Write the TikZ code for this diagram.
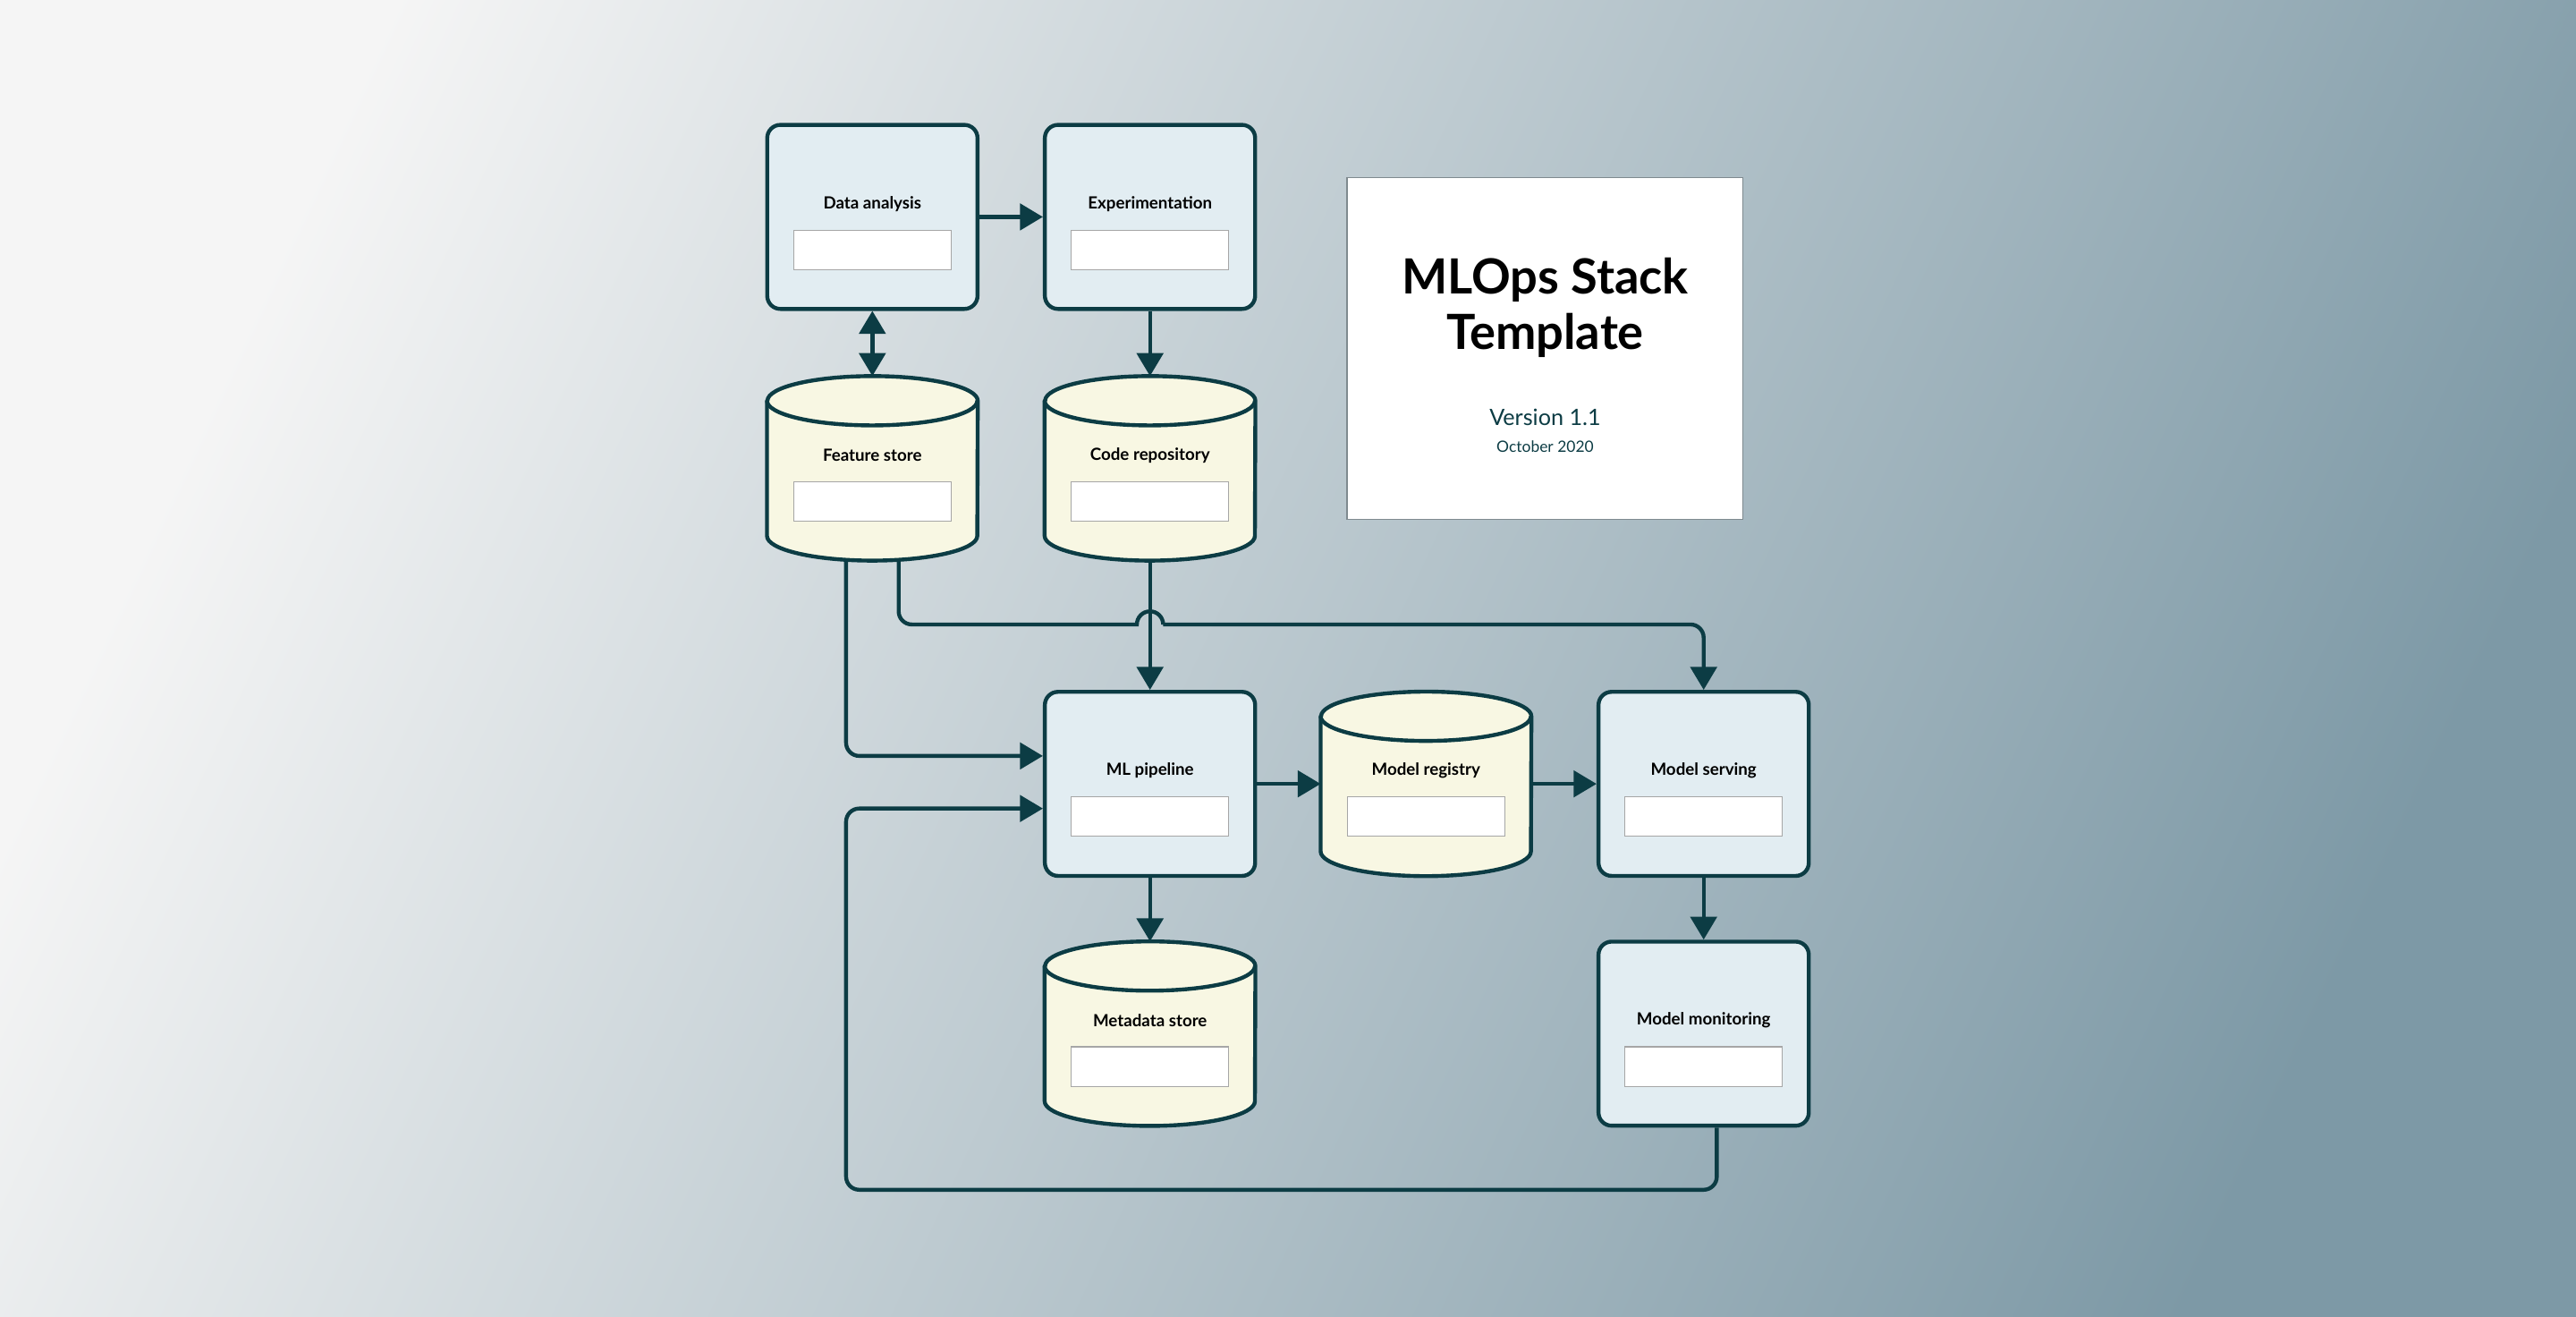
\documentclass[tikz,border=0pt]{standalone}
\usepackage{fontspec}
\setmainfont{Lato}
\usetikzlibrary{arrows.meta, positioning}
\definecolor{inkcolor}{RGB}{12,60,68}
\definecolor{boxcolor}{RGB}{226,237,242}
\definecolor{dbcolor}{RGB}{248,247,227}
\definecolor{bgleft}{RGB}{245,245,245}
\definecolor{bgright}{RGB}{125,153,166}

\begin{document}
\begin{tikzpicture}[
            x=0.5mm, y=-0.5mm,
            box/.style={rectangle, rounded corners=4mm, draw=inkcolor, line width=3.4pt, fill=boxcolor, minimum width=64mm, minimum height=56mm},
            db/.style={rectangle, minimum width=64mm, minimum height=56mm},
            dbshape/.style={draw=inkcolor, line width=3.4pt, fill=dbcolor, line join=round},
            label/.style={font=\bfseries\fontsize{14.5}{16}\selectfont, text=black},
            field/.style={rectangle, draw=gray!70, line width=0.8pt, fill=white, minimum width=48mm, minimum height=12mm},
            arrow/.style={-{Triangle[length=7mm, width=8mm]}, draw=inkcolor, line width=3.4pt, rounded corners=4mm}
        ]
            \shade[shading=axis, left color=bgleft, right color=bgright, shading angle=65] (0,0) rectangle (1568,801);
            \path[use as bounding box] (0,0) rectangle (1568,801);

            % stack components
            \node[box] (analysis) at (531,132) {};
            \node[box] (experiment) at (700,132) {};
            \node[db] (features) at (531,285) {};
            \node[db] (coderepo) at (700,285) {};
            \node[box] (pipeline) at (700,477) {};
            \node[db] (registry) at (868,477) {};
            \node[box] (serving) at (1037,477) {};
            \node[db] (metadata) at (700,629) {};
            \node[box] (monitoring) at (1037,629) {};

            % cylinders for the stores
            \foreach \n in {features, coderepo, registry, metadata}{
                \path[dbshape] ([yshift=-7.5mm]\n.north west) -- ([yshift=7.5mm]\n.south west)
                    arc[start angle=180, end angle=360, x radius=32mm, y radius=7.5mm]
                    -- ([yshift=-7.5mm]\n.north east)
                    arc[start angle=0, end angle=180, x radius=32mm, y radius=7.5mm] -- cycle;
                \draw[dbshape, fill=none] ([yshift=-7.5mm]\n.north west)
                    arc[start angle=180, end angle=360, x radius=32mm, y radius=7.5mm];
            }

            \foreach \n/\t in {analysis/Data analysis, experiment/Experimentation, features/Feature store, coderepo/Code repository, pipeline/ML pipeline, registry/Model registry, serving/Model serving, metadata/Metadata store, monitoring/Model monitoring}{
                \node[label] at ([yshift=4mm]\n.center) {\t};
                \node[field] at ([yshift=-10mm]\n.center) {};
            }

            % title card
            \node[rectangle, draw=gray!60!bgright, line width=1pt, fill=white, minimum width=120.5mm, minimum height=104mm] (title) at (940.5,212) {};
            \node[font=\bfseries\fontsize{42}{48}\selectfont, align=center] (heading) at (940.5,187) {MLOps Stack\\Template};
            \node[font=\fontsize{19.5}{22}\selectfont, text=inkcolor] (version) at (940.5,254) {Version 1.1};
            \node[font=\fontsize{13.5}{15}\selectfont, text=inkcolor] (date) at (940.5,272) {October 2020};

            \draw[arrow] (analysis) -- (experiment);
            \draw[arrow, {Triangle[length=7mm, width=8mm]}-{Triangle[length=7mm, width=8mm]}] (analysis) -- (features);
            \draw[arrow] (experiment) -- (coderepo);
            \draw[arrow] (coderepo) -- (pipeline);
            \draw[arrow] (pipeline) -- (registry);
            \draw[arrow] (registry) -- (serving);
            \draw[arrow] (serving) -- (monitoring);
            \draw[arrow] (pipeline) -- (metadata);

            \coordinate (jumpL) at (692,380);
            \coordinate (jumpR) at (708,380);
            \draw[arrow] (547,340) -- (547,380) [sharp corners] -- (jumpL) arc[start angle=180, end angle=0, radius=4mm] -- (jumpR) [rounded corners=4mm] -- (1037,380) -- (serving.north);
            \draw[arrow] (515,340) -- (515,460) -- (pipeline.west |- 0,460);
            \draw[arrow] (monitoring.south -| 1045,0) -- (1045,724) -- (515,724) -- (515,492) -- (pipeline.west |- 0,492);
        \end{tikzpicture}
\end{document}
